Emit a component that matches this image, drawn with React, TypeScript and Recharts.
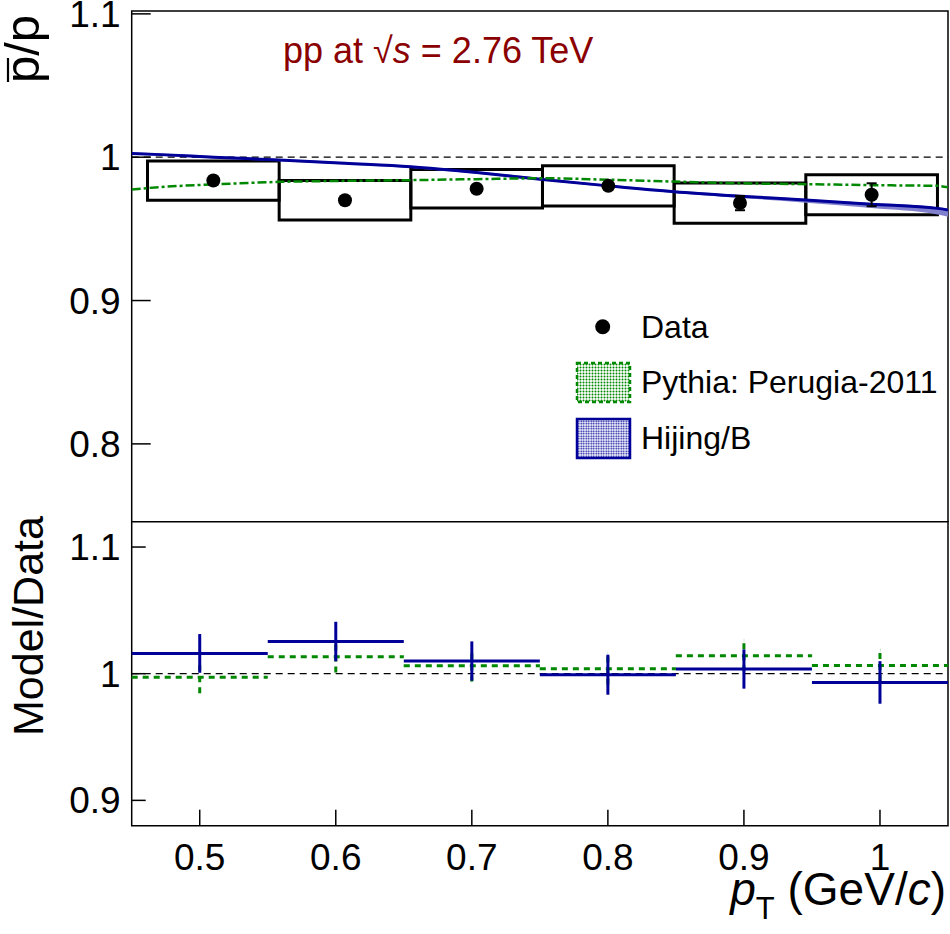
import React from "react";
import {
  ComposedChart,
  XAxis,
  YAxis,
  Line,
  Area,
  Scatter,
  ErrorBar,
  ReferenceLine,
  ReferenceArea,
} from "recharts";

const FONT = "'Liberation Sans', Arial, Helvetica, sans-serif";
const BLUE = "#000099";
const GREEN = "#008800";

// measured pbar/p ratio
const PT = [0.5, 0.6, 0.7, 0.8, 0.9, 1.0];
const RATIO = [0.9837, 0.970, 0.978, 0.980, 0.968, 0.9738];
const STAT = [0.002, 0.002, 0.002, 0.002, 0.005, 0.008];
const SYST = [0.0137, 0.0138, 0.0134, 0.014, 0.014, 0.014];
const BIN_HALF = 0.05;

// model curves in the top panel
const MODEL_PT = [0.438, 0.46, 0.5, 0.55, 0.6, 0.65, 0.7, 0.75, 0.8, 0.85, 0.9, 0.95, 1.0, 1.05, 1.058];
const HIJING = [1.0026, 1.0018, 1.0, 0.998, 0.9957, 0.9933, 0.9893, 0.9845, 0.98, 0.9759, 0.9728, 0.9701, 0.9672, 0.9643, 0.9632];
const HIJING_LO = [1.0018, 1.001, 0.9992, 0.9972, 0.9949, 0.9925, 0.9885, 0.9837, 0.9792, 0.975, 0.9716, 0.9683, 0.9645, 0.96, 0.9585];
const HIJING_HI = [1.0034, 1.0026, 1.0008, 0.9988, 0.9965, 0.9941, 0.9901, 0.9853, 0.9808, 0.9767, 0.9736, 0.9709, 0.968, 0.9651, 0.964];
const PYTHIA = [0.9775, 0.9792, 0.981, 0.9828, 0.9835, 0.984, 0.9847, 0.9853, 0.9843, 0.983, 0.9818, 0.9812, 0.9805, 0.98, 0.979];

// model / data in the bottom panel
const HIJING_RATIO = [1.016, 1.0254, 1.01, 0.9992, 1.0037, 0.9931];
const HIJING_RATIO_ERR = [0.0153, 0.0156, 0.0155, 0.0158, 0.0155, 0.0168];
const PYTHIA_RATIO = [0.9972, 1.0134, 1.0063, 1.0039, 1.0142, 1.0065];
const PYTHIA_RATIO_ERR = [0.0127, 0.0124, 0.0125, 0.0124, 0.0123, 0.0122];

const X_TICKS = [0.5, 0.6, 0.7, 0.8, 0.9, 1.0];
const TOP_Y_TICKS = [0.8, 0.9, 1.0, 1.1];
const BOT_Y_TICKS = [0.9, 1.0, 1.1];

const TOP_X_DOMAIN: [number, number] = [0.438, 1.058];
const BOT_X_DOMAIN: [number, number] = [0.45, 1.05];
const TOP_Y_DOMAIN: [number, number] = [0.7455, 1.102];
const BOT_Y_DOMAIN: [number, number] = [0.88, 1.12];

const fmt = (v: number) => (Math.abs(v - 1) < 1e-9 ? "1" : String(v));

const dataPoints = PT.map((x, i) => ({ x, y: RATIO[i], ey: STAT[i] }));
const modelRows = MODEL_PT.map((x, i) => ({
  x,
  hijing: HIJING[i],
  band: [HIJING_LO[i], HIJING_HI[i]],
  pythia: PYTHIA[i],
}));
const hijingRatio = PT.map((x, i) => ({ x, y: HIJING_RATIO[i], ey: HIJING_RATIO_ERR[i], ex: BIN_HALF }));
const pythiaRatio = PT.map((x, i) => ({ x, y: PYTHIA_RATIO[i], ey: PYTHIA_RATIO_ERR[i], ex: BIN_HALF }));

function xTick(len: number, labels: boolean) {
  return (props: any) => {
    const { x, y, payload } = props;
    return (
      <g>
        <line x1={x} y1={y} x2={x} y2={y - len} stroke="#000" strokeWidth={1.5} />
        {labels && (
          <text x={x} y={y + 44} textAnchor="middle" fontSize={37} fontFamily={FONT} fill="#000">
            {fmt(payload.value)}
          </text>
        )}
      </g>
    );
  };
}

function yTick(len: number) {
  return (props: any) => {
    const { x, y, payload } = props;
    return (
      <g>
        <line x1={x} y1={y} x2={x + len} y2={y} stroke="#000" strokeWidth={1.5} />
        <text x={x - 11} y={y + 13} textAnchor="end" fontSize={37} fontFamily={FONT} fill="#000">
          {fmt(payload.value)}
        </text>
      </g>
    );
  };
}

const hidden = () => <g />;
const dot = (p: any) => <circle cx={p.cx} cy={p.cy} r={7} fill="#000" />;

function TopPanel() {
  return (
    <ComposedChart width={950} height={522} margin={{ top: 11, right: 2, bottom: 0, left: 0 }}>
      <XAxis
        dataKey="x"
        type="number"
        domain={TOP_X_DOMAIN}
        ticks={X_TICKS}
        allowDataOverflow
        height={0}
        tickSize={0}
        tickMargin={0}
        axisLine={false}
        tick={xTick(12, false)}
      />
      <YAxis
        type="number"
        domain={TOP_Y_DOMAIN}
        ticks={TOP_Y_TICKS}
        allowDataOverflow
        width={131.7}
        tickSize={0}
        tickMargin={0}
        axisLine={false}
        tick={yTick(19)}
      />
      <ReferenceArea
        x1={TOP_X_DOMAIN[0]}
        x2={TOP_X_DOMAIN[1]}
        y1={TOP_Y_DOMAIN[0]}
        y2={TOP_Y_DOMAIN[1]}
        fill="none"
        stroke="#000"
        strokeWidth={1.5}
      />
      <ReferenceLine y={1} stroke="#000" strokeWidth={1.2} strokeDasharray="7 5" />
      {PT.map((p, i) => (
        <ReferenceArea
          key={p}
          x1={p - BIN_HALF}
          x2={p + BIN_HALF}
          y1={RATIO[i] - SYST[i]}
          y2={RATIO[i] + SYST[i]}
          fill="none"
          stroke="#000"
          strokeWidth={3}
        />
      ))}
      <Area
        data={modelRows}
        dataKey="band"
        type="monotone"
        stroke="none"
        fill="url(#hijingDots)"
        fillOpacity={1}
        isAnimationActive={false}
      />
      <Line
        data={modelRows}
        dataKey="hijing"
        type="monotone"
        stroke={BLUE}
        strokeWidth={3}
        dot={false}
        isAnimationActive={false}
      />
      <Line
        data={modelRows}
        dataKey="pythia"
        type="monotone"
        stroke={GREEN}
        strokeWidth={2.5}
        strokeDasharray="9 3 3 3"
        dot={false}
        isAnimationActive={false}
      />
      <Scatter data={dataPoints} dataKey="y" shape={dot} isAnimationActive={false}>
        <ErrorBar dataKey="ey" direction="y" width={5} stroke="#000" strokeWidth={2} isAnimationActive={false} />
      </Scatter>
    </ComposedChart>
  );
}

function BottomPanel() {
  return (
    <ComposedChart width={950} height={434} margin={{ top: 21.7, right: 2, bottom: 0, left: 0 }}>
      <XAxis
        dataKey="x"
        type="number"
        domain={BOT_X_DOMAIN}
        ticks={X_TICKS}
        allowDataOverflow
        height={108.3}
        tickSize={0}
        tickMargin={0}
        axisLine={false}
        tick={xTick(16, true)}
      />
      <YAxis
        type="number"
        domain={BOT_Y_DOMAIN}
        ticks={BOT_Y_TICKS}
        allowDataOverflow
        width={131.7}
        tickSize={0}
        tickMargin={0}
        axisLine={false}
        tick={yTick(14)}
      />
      <ReferenceArea
        x1={BOT_X_DOMAIN[0]}
        x2={BOT_X_DOMAIN[1]}
        y1={BOT_Y_DOMAIN[0]}
        y2={BOT_Y_DOMAIN[1]}
        fill="none"
        stroke="#000"
        strokeWidth={1.5}
      />
      <ReferenceLine y={1} stroke="#000" strokeWidth={1.2} strokeDasharray="7 5" />
      <Scatter data={pythiaRatio} dataKey="y" shape={hidden} isAnimationActive={false}>
        <ErrorBar dataKey="ex" direction="x" width={0} stroke={GREEN} strokeWidth={3} strokeDasharray="6 5" isAnimationActive={false} />
        <ErrorBar dataKey="ey" direction="y" width={0} stroke={GREEN} strokeWidth={3} strokeDasharray="6 5" isAnimationActive={false} />
      </Scatter>
      <Scatter data={hijingRatio} dataKey="y" shape={hidden} isAnimationActive={false}>
        <ErrorBar dataKey="ex" direction="x" width={0} stroke={BLUE} strokeWidth={3} isAnimationActive={false} />
        <ErrorBar dataKey="ey" direction="y" width={0} stroke={BLUE} strokeWidth={3} isAnimationActive={false} />
      </Scatter>
    </ComposedChart>
  );
}

function Overlay() {
  return (
    <svg
      width={950}
      height={934}
      style={{ position: "absolute", left: 0, top: 0, pointerEvents: "none" }}
      fontFamily={FONT}
    >
      <defs>
        <pattern id="hijingDots" width={2} height={2} patternUnits="userSpaceOnUse">
          <rect width={2} height={2} fill="#c8c8ee" />
          <circle cx={1} cy={1} r={0.7} fill={BLUE} />
        </pattern>
        <pattern id="greenDots" width={3} height={3} patternUnits="userSpaceOnUse">
          <rect width={3} height={3} fill="#ffffff" />
          <circle cx={1.5} cy={1.5} r={1} fill={GREEN} />
        </pattern>
        <pattern id="blueDots" width={2.5} height={2.5} patternUnits="userSpaceOnUse">
          <rect width={2.5} height={2.5} fill="#ffffff" />
          <circle cx={1.25} cy={1.25} r={0.9} fill={BLUE} />
        </pattern>
      </defs>

      {/* y axis titles */}
      <g transform="translate(39,49) rotate(-90)">
        <text x={0} y={0} textAnchor="middle" fontSize={49} fill="#000">
          p/p
        </text>
        <line x1={-33} y1={-31} x2={-9} y2={-31} stroke="#000" strokeWidth={2.2} />
      </g>
      <text transform="translate(43,626) rotate(-90)" textAnchor="middle" fontSize={43} fill="#000">
        Model/Data
      </text>

      {/* x axis title */}
      <text x={946} y={905} textAnchor="end" fontSize={46} fill="#000">
        <tspan fontStyle="italic">p</tspan>
        <tspan fontSize={31} dy={14}>T</tspan>
        <tspan dy={-14}> (GeV/</tspan>
        <tspan fontStyle="italic">c</tspan>
        <tspan>)</tspan>
      </text>

      {/* collision system */}
      <text x={283} y={63} fontSize={36} fill="#8b0000">
        pp at √<tspan fontStyle="italic">s</tspan> = 2.76 TeV
      </text>

      {/* legend */}
      <circle cx={602.7} cy={326.7} r={7.5} fill="#000" />
      <text x={641} y={338} fontSize={32} fill="#000">
        Data
      </text>
      <rect x={577} y={363} width={53} height={39} fill="url(#greenDots)" stroke={GREEN} strokeWidth={2.5} strokeDasharray="4 3" />
      <text x={641} y={393} fontSize={32} fill="#000">
        Pythia: Perugia-2011
      </text>
      <rect x={577} y={419} width={53} height={39} fill="url(#blueDots)" stroke={BLUE} strokeWidth={2.5} />
      <text x={641} y={449} fontSize={32} fill="#000">
        Hijing/B
      </text>
    </svg>
  );
}

export default function App() {
  return (
    <div style={{ position: "absolute", left: 0, top: 0, width: 950, height: 934, background: "#fff" }}>
      <div style={{ position: "absolute", left: 0, top: 0 }}>
        <TopPanel />
      </div>
      <div style={{ position: "absolute", left: 0, top: 500 }}>
        <BottomPanel />
      </div>
      <Overlay />
    </div>
  );
}
